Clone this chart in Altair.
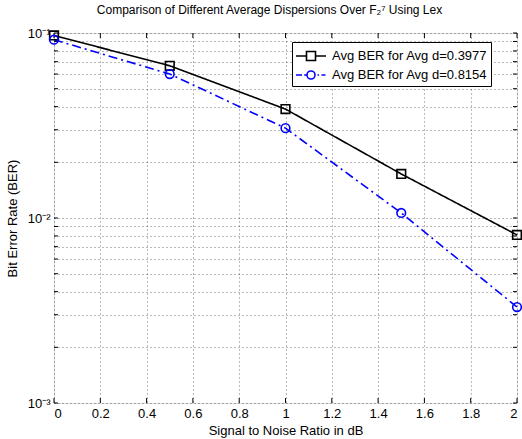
import altair as alt
import pandas as pd

# ---- data ----
snr = [0.0, 0.5, 1.0, 1.5, 2.0]
ber_a = [0.097, 0.0665, 0.0388, 0.0173, 0.0081]   # Avg d=0.3977
ber_b = [0.0920, 0.0600, 0.0306, 0.01065, 0.0033]  # Avg d=0.8154
series_names = ["Avg BER for Avg d=0.3977", "Avg BER for Avg d=0.8154"]
series_colors = ["#000000", "#0000ff"]

x_ticks = [0, 0.2, 0.4, 0.6, 0.8, 1, 1.2, 1.4, 1.6, 1.8, 2]
y_ticks = [0.001, 0.002, 0.003, 0.004, 0.005, 0.006, 0.007, 0.008, 0.009,
           0.01, 0.02, 0.03, 0.04, 0.05, 0.06, 0.07, 0.08, 0.09, 0.1]

FONT = "Liberation Sans"
W, H = 463, 370

df = pd.DataFrame({
    "snr": snr + snr,
    "ber": ber_a + ber_b,
    "series": [series_names[0]] * len(snr) + [series_names[1]] * len(snr),
})

xscale = alt.Scale(domain=[0, 2], nice=False, zero=False)
yscale = alt.Scale(type="log", domain=[0.001, 0.1], nice=False)
cscale = alt.Scale(domain=series_names, range=series_colors)

x_enc = alt.X("snr:Q", scale=xscale, axis=alt.Axis(
    values=x_ticks, format="~g", title="Signal to Noise Ratio in dB",
    grid=True, gridDash=[1, 3], gridColor="#000000", gridOpacity=0.55,
    tickSize=0, domain=False, labelPadding=4, labelFontSize=13,
    titleFontSize=13, titlePadding=4, labelFont=FONT, titleFont=FONT,
    titleFontWeight="normal", labelColor="#000", titleColor="#000"))
y_enc = alt.Y("ber:Q", scale=yscale, axis=alt.Axis(
    values=y_ticks,
    labelExpr="datum.value > 0.095 ? '10⁻¹' : (datum.value > 0.0095 && datum.value < 0.0105) ? '10⁻²' : datum.value < 0.00105 ? '10⁻³' : ''",
    title="Bit Error Rate (BER)",
    grid=True, gridDash=[1, 3], gridColor="#000000", gridOpacity=0.55,
    tickSize=0, domain=False, labelPadding=4, labelFontSize=13,
    titleFontSize=13, titlePadding=8, labelFont=FONT, titleFont=FONT,
    titleFontWeight="normal", labelColor="#000", titleColor="#000"))

base = alt.Chart(df)

lines = base.mark_line(strokeWidth=1.6).encode(
    x=x_enc, y=y_enc,
    color=alt.Color("series:N", scale=cscale, legend=None),
    strokeDash=alt.StrokeDash("series:N", scale=alt.Scale(
        domain=series_names, range=[[1, 0], [9, 4, 2, 4]]), legend=None),
)

points = base.mark_point(filled=False, size=75, strokeWidth=1.6, opacity=1).encode(
    x="snr:Q", y="ber:Q",
    color=alt.Color("series:N", scale=cscale, legend=None),
    shape=alt.Shape("series:N", scale=alt.Scale(
        domain=series_names, range=["square", "circle"]), legend=None),
)

sq_path = "M-1.5,0H-0.45M0.45,0H1.5M-0.45,-0.45H0.45V0.45H-0.45Z"
ci_path = ("M-1.5,0H-0.9M-0.68,0H-0.45M0.4,0A0.4,0.4 0 1,1 -0.4,0A0.4,0.4 0 1,1 0.4,0"
           "M0.65,0H0.8M1.05,0H1.45")

leg = alt.Legend(
    title=None, orient="none", legendX=238, legendY=9,
    strokeColor="#000", fillColor="#fff", padding=3, cornerRadius=0,
    labelFont=FONT, labelFontSize=13, labelColor="#000",
    symbolSize=400, symbolStrokeWidth=1.6, symbolFillColor="transparent",
    symbolOpacity=1, symbolOffset=5, rowPadding=0, labelOffset=10, labelLimit=300,
)

legend_layer = base.mark_point(filled=False, clip=True, strokeWidth=1.6, opacity=1).encode(
    x=alt.value(-200), y=alt.value(-200),
    stroke=alt.Stroke("series:N", scale=alt.Scale(domain=series_names, range=series_colors),
                      legend=leg),
    shape=alt.Shape("series:N", scale=alt.Scale(domain=series_names, range=[sq_path, ci_path]),
                    legend=leg),
)

xt = alt.Chart(pd.DataFrame({"t": x_ticks}))
x_tick_bot = xt.mark_rule(color="#000", strokeWidth=1).encode(
    x=alt.X("t:Q", scale=xscale), y=alt.value(H), y2=alt.value(H - 5))
x_tick_top = xt.mark_rule(color="#000", strokeWidth=1).encode(
    x=alt.X("t:Q", scale=xscale), y=alt.value(0), y2=alt.value(5))

yt = alt.Chart(pd.DataFrame({"t": y_ticks}))
y_tick_l = yt.mark_rule(color="#000", strokeWidth=1).encode(
    y=alt.Y("t:Q", scale=yscale), x=alt.value(0), x2=alt.value(4))
y_tick_r = yt.mark_rule(color="#000", strokeWidth=1).encode(
    y=alt.Y("t:Q", scale=yscale), x=alt.value(W), x2=alt.value(W - 4))

chart = alt.layer(
    x_tick_bot, x_tick_top, y_tick_l, y_tick_r, lines, points, legend_layer
).resolve_scale(
    stroke="independent", shape="independent"
).properties(
    width=W, height=H,
    autosize=alt.AutoSizeParams(type="none"),
    padding={"left": 54, "top": 33, "right": 5, "bottom": 36},
    title=alt.TitleParams(
        "Comparison of Different Average Dispersions Over F₂⁷ Using Lex",
        font=FONT, fontSize=12, fontWeight="normal", color="#000",
        anchor="middle", offset=10, dx=-16),
).configure_view(
    stroke="#000", strokeWidth=1
).configure(background="#ffffff")

chart.save("out.html", embed_options={"renderer": "svg", "actions": False})
